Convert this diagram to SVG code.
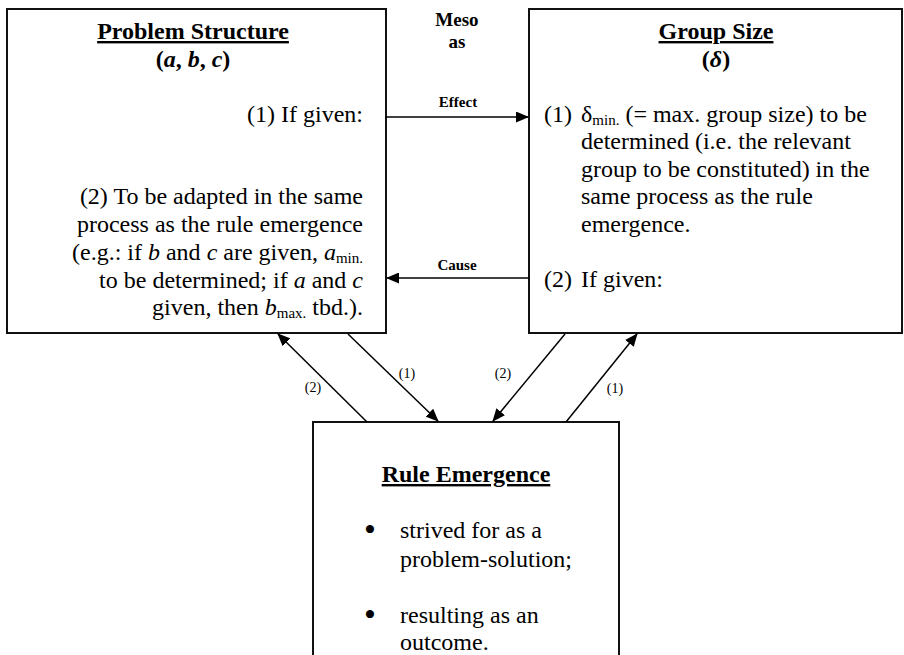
<svg xmlns="http://www.w3.org/2000/svg" width="904" height="655" viewBox="0 0 904 655">
<defs>
<style>
text{font-family:'Liberation Serif','Tinos',serif;fill:#000}
.box{fill:#fff;stroke:#111;stroke-width:2}
.t{font-size:24px;font-weight:normal}
.bul{font-size:34px}
.h{font-size:24px;font-weight:bold;text-decoration:underline}
.hb{font-size:24px;font-weight:bold}
.lbl{font-weight:bold}
.sm{font-size:14px}
.sub{font-size:15px}
.con{stroke:#000;stroke-width:1.5;fill:none}
</style>
<marker id="ah" markerWidth="13" markerHeight="11" refX="12" refY="5.5" orient="auto" markerUnits="userSpaceOnUse">
<path d="M0,0 L13,5.5 L0,11 Z" fill="#000"/>
</marker>
</defs>
<rect width="904" height="655" fill="#fff"/>

<g id="problem-structure">
<rect class="box" x="7" y="9" width="379" height="324"/>
<text class="h" x="193" y="39" text-anchor="middle">Problem Structure</text>
<text class="hb" x="193" y="67" text-anchor="middle">(<tspan font-style="italic">a</tspan>, <tspan font-style="italic">b</tspan>, <tspan font-style="italic">c</tspan>)</text>
<text class="t" x="363" y="122" text-anchor="end">(1) If given:</text>
<text class="t" x="363" y="204" text-anchor="end">(2) To be adapted in the same</text>
<text class="t" x="363" y="232" text-anchor="end">process as the rule emergence</text>
<text class="t" x="363" y="260" text-anchor="end">(e.g.: if <tspan font-style="italic">b</tspan> and <tspan font-style="italic">c</tspan> are given, <tspan font-style="italic">a</tspan><tspan class="sub" dy="3">min.</tspan></text>
<text class="t" x="363" y="288" text-anchor="end">to be determined; if <tspan font-style="italic">a</tspan> and <tspan font-style="italic">c</tspan></text>
<text class="t" x="363" y="315" text-anchor="end">given, then <tspan font-style="italic">b</tspan><tspan class="sub" dy="3">max.</tspan><tspan dy="-3"> tbd.).</tspan></text>
</g>

<g id="group-size">
<rect class="box" x="529" y="9" width="373" height="324"/>
<text class="h" x="716" y="39" text-anchor="middle">Group Size</text>
<text class="hb" x="716" y="67" text-anchor="middle">(<tspan font-style="italic">δ</tspan>)</text>
<text class="t" x="544" y="122">(1)</text>
<text class="t" x="581" y="122">δ<tspan class="sub" dy="3">min.</tspan><tspan dy="-3"> (= max. group size) to be</tspan></text>
<text class="t" x="581" y="149">determined (i.e. the relevant</text>
<text class="t" x="581" y="177">group to be constituted) in the</text>
<text class="t" x="581" y="204">same process as the rule</text>
<text class="t" x="581" y="232">emergence.</text>
<text class="t" x="544" y="287">(2)</text>
<text class="t" x="581" y="287">If given:</text>
</g>

<g id="rule-emergence">
<rect class="box" x="313" y="422" width="306" height="280"/>
<text class="h" x="466" y="482" text-anchor="middle">Rule Emergence</text>
<text class="bul" x="370" y="541" text-anchor="middle">•</text>
<text class="t" x="400" y="538">strived for as a</text>
<text class="t" x="400" y="567">problem-solution;</text>
<text class="bul" x="370" y="626" text-anchor="middle">•</text>
<text class="t" x="400" y="623">resulting as an</text>
<text class="t" x="400" y="650">outcome.</text>
</g>

<g id="meso-label">
<text class="lbl" x="457" y="26" font-size="19" text-anchor="middle">Meso</text>
<text class="lbl" x="457" y="48" font-size="19" text-anchor="middle">as</text>
</g>

<g id="connectors">
<line class="con" x1="386" y1="117" x2="528" y2="117" marker-end="url(#ah)"/>
<text class="lbl" x="458" y="107" font-size="15" text-anchor="middle">Effect</text>
<line class="con" x1="529" y1="278" x2="387" y2="278" marker-end="url(#ah)"/>
<text class="lbl" x="457" y="270" font-size="15" text-anchor="middle">Cause</text>
<line class="con" x1="367" y1="422" x2="278" y2="334" marker-end="url(#ah)"/>
<text class="sm" x="313" y="392" text-anchor="middle">(2)</text>
<line class="con" x1="348" y1="334" x2="438" y2="421" marker-end="url(#ah)"/>
<text class="sm" x="407" y="378" text-anchor="middle">(1)</text>
<line class="con" x1="565" y1="334" x2="493" y2="421" marker-end="url(#ah)"/>
<text class="sm" x="503" y="378" text-anchor="middle">(2)</text>
<line class="con" x1="566" y1="422" x2="637" y2="334" marker-end="url(#ah)"/>
<text class="sm" x="615" y="393" text-anchor="middle">(1)</text>
</g>
</svg>
